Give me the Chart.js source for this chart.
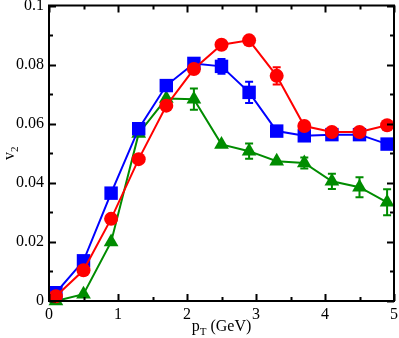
<!DOCTYPE html>
<html>
<head>
<meta charset="utf-8">
<script src="https://cdn.jsdelivr.net/npm/chart.js@4.4.1/dist/chart.umd.min.js"></script>
<style>
  html, body { margin: 0; padding: 0; background: #fff; }
  #wrap { width: 399px; height: 338px; }
</style>
</head>
<body>
<div id="wrap"><canvas id="v2Chart" width="399" height="338"></canvas></div>
<script>
// pT bin centres (GeV)
const pt = [0.1, 0.5, 0.9, 1.3, 1.7, 2.1, 2.5, 2.9, 3.3, 3.7, 4.1, 4.5, 4.9];

// v2 values
const v2Red   = [0.0016, 0.0104, 0.0278, 0.0480, 0.0661, 0.0785, 0.0867, 0.0882, 0.0762, 0.0592, 0.0572, 0.0572, 0.0595];
const v2Blue  = [0.0028, 0.0136, 0.0365, 0.0583, 0.0729, 0.0804, 0.0794, 0.0706, 0.0575, 0.0559, 0.0563, 0.0563, 0.0531];
const v2Green = [0.0000, 0.0023, 0.0200, 0.0567, 0.0685, 0.0683, 0.0530, 0.0507, 0.0473, 0.0467, 0.0405, 0.0385, 0.0334];

// error bar half-widths
const errRed   = [0, 0, 0, 0, 0, 0, 0.0006, 0.0012, 0.0029, 0, 0, 0, 0.0006];
const errBlue  = [0, 0, 0, 0, 0, 0, 0.0025, 0.0036, 0, 0, 0, 0, 0];
const errGreen = [0, 0, 0, 0, 0, 0.0036, 0, 0.0026, 0, 0.0019, 0.0026, 0.0034, 0.0044];

const xTicks = [0, 1, 2, 3, 4, 5];
const yTicks = [0, 0.02, 0.04, 0.06, 0.08, 0.1];

const RED = '#ff0000';
const BLUE = '#0000ff';
const GREEN = '#008c00';
const FONT = '"Liberation Serif", "DejaVu Serif", serif';

function pts(ys) {
    return pt.map((x, i) => ({ x: x, y: ys[i] }));
}

// error bars + inward ticks + frame + axis titles
const gracePlugin = {
    id: 'grace',
    afterDatasetsDraw(chart) {
        const ctx = chart.ctx;
        const xs = chart.scales.x, ys = chart.scales.y;
        ctx.save();
        ctx.lineWidth = 2;
        chart.data.datasets.forEach(ds => {
            ctx.strokeStyle = ds.borderColor;
            ds.errors.forEach((e, i) => {
                if (!e) return;
                const px = xs.getPixelForValue(ds.data[i].x);
                const lo = ys.getPixelForValue(ds.data[i].y - e);
                const hi = ys.getPixelForValue(ds.data[i].y + e);
                ctx.beginPath();
                ctx.moveTo(px, lo); ctx.lineTo(px, hi);
                ctx.moveTo(px - 4, lo); ctx.lineTo(px + 4, lo);
                ctx.moveTo(px - 4, hi); ctx.lineTo(px + 4, hi);
                ctx.stroke();
            });
        });
        ctx.restore();
    },
    afterDraw(chart) {
        const ctx = chart.ctx;
        const a = chart.chartArea;
        const xs = chart.scales.x, ys = chart.scales.y;
        ctx.save();
        ctx.strokeStyle = '#000';
        ctx.lineWidth = 2;
        ctx.strokeRect(a.left, a.top, a.right - a.left, a.bottom - a.top);

        ctx.beginPath();
        for (let v = 0; v <= 5.001; v += 0.5) {
            const px = Math.round(xs.getPixelForValue(v)) + 0.5;
            const len = Math.abs(v - Math.round(v)) < 1e-6 ? 7 : 4;
            ctx.moveTo(px, a.bottom); ctx.lineTo(px, a.bottom - len);
            ctx.moveTo(px, a.top); ctx.lineTo(px, a.top + len);
        }
        for (let k = 0; k <= 10; k++) {
            const py = Math.round(ys.getPixelForValue(k * 0.01)) + 0.5;
            const len = k % 2 === 0 ? 7 : 4;
            ctx.moveTo(a.left, py); ctx.lineTo(a.left + len, py);
            ctx.moveTo(a.right, py); ctx.lineTo(a.right - len, py);
        }
        ctx.stroke();

        // x title: p_T (GeV)
        ctx.fillStyle = '#000';
        ctx.textBaseline = 'alphabetic';
        ctx.textAlign = 'left';
        const big = '16px ' + FONT, small = '11px ' + FONT;
        ctx.font = big;
        const wp = ctx.measureText('p').width;
        const wg = ctx.measureText(' (GeV)').width;
        ctx.font = small;
        const wt = ctx.measureText('T').width;
        let x0 = (a.left + a.right) / 2 - (wp + wt + wg) / 2;
        const yb = 331;
        ctx.font = big; ctx.fillText('p', x0, yb);
        ctx.font = small; ctx.fillText('T', x0 + wp, yb + 4);
        ctx.font = big; ctx.fillText(' (GeV)', x0 + wp + wt, yb);

        // y title: v_2
        ctx.translate(14, (a.top + a.bottom) / 2);
        ctx.rotate(-Math.PI / 2);
        ctx.font = big;
        const wv = ctx.measureText('v').width;
        ctx.font = small;
        const w2 = ctx.measureText('2').width;
        const s = -(wv + w2) / 2;
        ctx.font = big; ctx.fillText('v', s, 0);
        ctx.font = small; ctx.fillText('2', s + wv, 4);
        ctx.restore();
    }
};

function series(data, errs, color, shape, radius) {
    return {
        data: pts(data),
        errors: errs,
        borderColor: color,
        backgroundColor: color,
        pointBackgroundColor: color,
        pointBorderColor: color,
        pointStyle: shape,
        pointRadius: radius,
        pointBorderWidth: 0,
        borderWidth: 2,
        showLine: true,
        tension: 0,
        clip: false
    };
}

new Chart(document.getElementById('v2Chart'), {
    type: 'scatter',
    data: {
        datasets: [
            series(v2Red, errRed, RED, 'circle', 7),
            series(v2Blue, errBlue, BLUE, 'rect', 9.5),
            series(v2Green, errGreen, GREEN, 'triangle', 8.5)
        ]
    },
    options: {
        responsive: false,
        animation: false,
        layout: { autoPadding: false, padding: { top: 5.5, right: 5, left: 0, bottom: 0 } },
        plugins: { legend: { display: false }, tooltip: { enabled: false } },
        scales: {
            x: {
                type: 'linear',
                min: 0, max: 5,
                afterFit: s => { s.height = 37; s.paddingLeft = 0; s.paddingRight = 0; },
                afterBuildTicks: s => { s.ticks = xTicks.map(v => ({ value: v })); },
                grid: { display: false, drawTicks: false },
                border: { display: false },
                ticks: {
                    color: '#000',
                    padding: 4,
                    maxRotation: 0,
                    font: { family: FONT, size: 16 },
                    callback: v => String(v)
                }
            },
            y: {
                type: 'linear',
                min: 0, max: 0.1,
                afterFit: s => { s.width = 49; s.paddingTop = 0; s.paddingBottom = 0; },
                afterBuildTicks: s => { s.ticks = yTicks.map(v => ({ value: v })); },
                grid: { display: false, drawTicks: false },
                border: { display: false },
                ticks: {
                    color: '#000',
                    padding: 5,
                    font: { family: FONT, size: 16 },
                    callback: v => String(+v.toFixed(2))
                }
            }
        }
    },
    plugins: [gracePlugin]
});
</script>
</body>
</html>
